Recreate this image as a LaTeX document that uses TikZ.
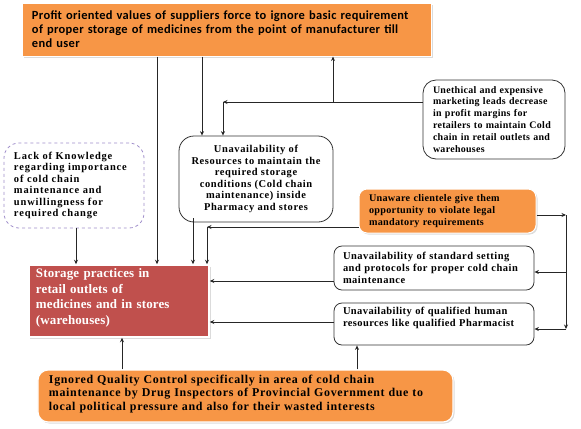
\documentclass[tikz,border=0pt]{standalone}
\usepackage{fontspec}
\setmainfont{Liberation Serif}
\newfontfamily\carlito{Carlito}
\usetikzlibrary{arrows.meta,shadows,calc}
\definecolor{orng}{HTML}{F79646}
\definecolor{brick}{HTML}{C0504D}
\definecolor{lav}{HTML}{A08FCB}
\newcommand\bfs[3]{\bfseries\fontsize{#1}{#2}\selectfont\addfontfeature{LetterSpace=#3}}
\begin{document}
\begin{tikzpicture}[x=1bp,y=-1bp,
  arr/.style={draw=black!85,line width=0.8bp,-{Stealth[length=4.5bp,width=4bp]}},
  shad/.style={drop shadow={opacity=0.35,shadow xshift=1.5bp,shadow yshift=-1.5bp,fill=black!40}},
  sbox/.style={draw=black!80,line width=0.8bp,fill=white,rounded corners=9bp,align=left,inner sep=0pt},
]
\useasboundingbox (0,0) rectangle (581,428);
% top box
\node[shad,fill=orng,draw=white,line width=1bp,minimum width=408bp,minimum height=53bp,inner sep=0pt,align=left,
  text width=390bp,font=\carlito\bfs{12.5}{14}{2.5}] (top) at (227,29.5)
  {Profit oriented values of suppliers force to ignore basic requirement\\
   of proper storage of medicines from the point of manufacturer till\\
   end user};
% unethical
\node[sbox,rounded corners=13bp,minimum width=142bp,minimum height=79bp,text width=122bp,
  font=\bfs{10}{12}{3}] (uneth) at (494,119.5)
  {Unethical and expensive\\marketing leads decrease\\in profit margins for\\retailers to maintain Cold\\chain in retail outlets and\\warehouses};
% resources
\node[sbox,rounded corners=15bp,minimum width=154bp,minimum height=86bp,align=center,
  font=\bfs{10.5}{11.6}{6}] (res) at (256,179)
  {Unavailability of\\Resources to maintain the\\required storage\\conditions (Cold chain\\maintenance) inside\\Pharmacy and stores};
% lack
\node[sbox,draw=lav,dashed,rounded corners=15bp,minimum width=140bp,minimum height=85bp,text width=120bp,
  font=\bfs{10.5}{11.6}{8}] (lack) at (74,185.5)
  {Lack of Knowledge\\regarding importance\\of cold chain\\maintenance and\\unwillingness for\\required change};
% unaware
\node[sbox,shad,fill=orng,draw=white,line width=1bp,rounded corners=8bp,minimum width=177bp,minimum height=44bp,text width=157bp,
  font=\bfs{10.2}{12}{3}] (unaw) at (447.5,211)
  {Unaware clientele give them\\opportunity to violate legal\\mandatory requirements};
% standard
\node[sbox,rounded corners=8bp,minimum width=200bp,minimum height=44bp,text width=182bp,
  font=\bfs{10.5}{12}{5}] (std) at (434,268)
  {Unavailability of standard setting\\and protocols for proper cold chain\\maintenance};
% qualified
\node[sbox,rounded corners=8bp,minimum width=200bp,minimum height=42bp,text width=182bp,
  font=\bfs{10.5}{12}{4}] (qual) at (434,324)
  {\parbox[c][34bp][t]{182bp}{Unavailability of qualified human\\resources like qualified Pharmacist}};
% storage
\node[shad,fill=brick,draw=white,line width=1.5bp,minimum width=180bp,minimum height=72bp,inner sep=0pt,text width=166bp,align=left,
  text=white,font=\bfs{13}{15.7}{1}] (stor) at (119,301)
  {Storage practices in\\retail outlets of\\medicines and in stores\\(warehouses)\vspace{6bp}};
% QC
\node[sbox,shad,fill=orng,draw=white,line width=1.2bp,rounded corners=10bp,minimum width=415bp,minimum height=52bp,text width=393bp,
  font=\bfs{12}{13.5}{5.5}] (qc) at (245.5,396)
  {Ignored Quality Control specifically in area of cold chain\\maintenance by Drug Inspectors of Provincial Government due to\\local political pressure and also for their wasted  interests\vspace{4bp}};
% connectors
\draw[arr] (top.south -| 157,0) -- (stor.north -| 157,0);
\draw[arr] (top.south -| 202,0) -- (res.north -| 202,0);
\coordinate (c1) at (223,102);
\coordinate (c2) at (333,102);
\draw[arr] (uneth.west |- c1) -- (c1);
\draw[arr] (c1) -- (res.north -| c1);
\draw[arr] (c2) -- (top.south -| c2);
\draw[arr] (lack.south -| 76,0) -- (stor.north -| 76,0);
\draw[arr] (193,218) -- (stor.north -| 193,0);
\coordinate (c3) at (207,227);
\draw[arr] (unaw.west |- c3) -- (c3);
\draw[arr] (c3) -- (stor.north -| c3);
\coordinate (c4) at (566,215);
\coordinate (c5) at (566,329);
\draw[arr] (unaw.east |- c4) -- (c4);
\draw[arr] (c4) -- (c5);
\draw[arr] (566,272) -- (std.east |- 0,272);
\draw[arr] (c5) -- (qual.east |- c5);
\draw[arr] (std.west |- 0,281) -- (stor.east |- 0,281);
\draw[arr] (qual.west |- 0,322) -- (stor.east |- 0,322);
\draw[arr] (qc.north -| 122,0) -- (stor.south -| 122,0);
\draw[arr] (qc.north -| 357,0) -- (qual.south -| 357,0);
\end{tikzpicture}
\end{document}
